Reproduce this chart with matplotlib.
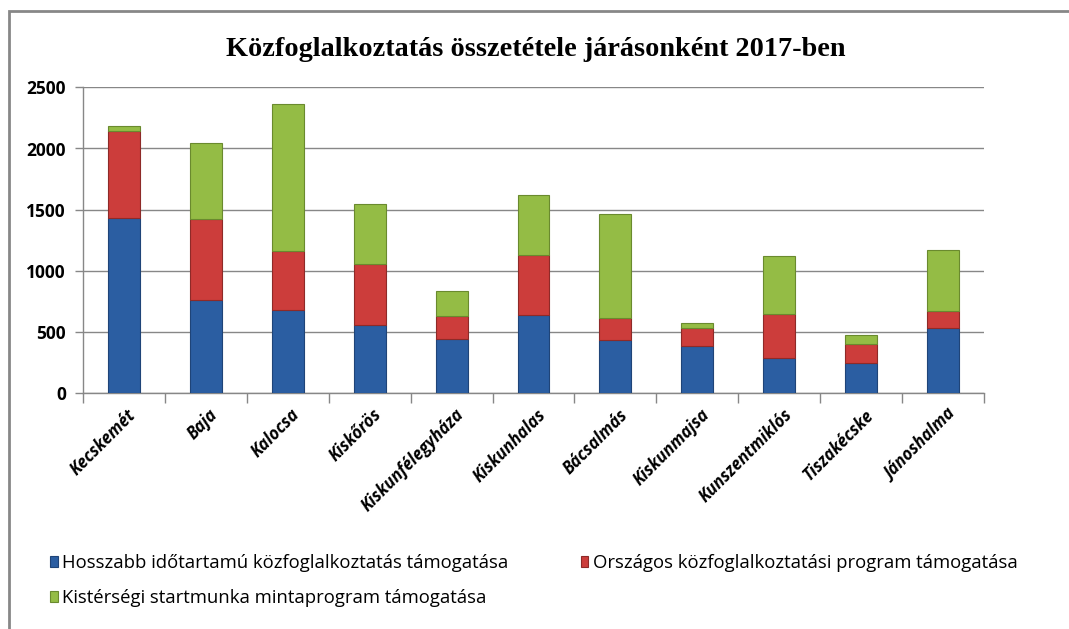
import matplotlib
matplotlib.use("Agg")
import matplotlib.pyplot as plt
import numpy as np
from matplotlib.patches import Rectangle, Patch

categories = ["Kecskemét", "Baja", "Kalocsa", "Kiskőrös", "Kiskunfélegyháza",
              "Kiskunhalas", "Bácsalmás", "Kiskunmajsa", "Kunszentmiklós",
              "Tiszakécske", "Jánoshalma"]
hosszabb = [1430, 762, 681, 555, 441, 640, 436, 387, 286, 245, 534]
orszagos = [713, 665, 482, 502, 191, 490, 182, 149, 362, 158, 141]
kistersegi = [41, 621, 1203, 492, 201, 490, 847, 36, 477, 71, 496]
series_names = ["Hosszabb időtartamú közfoglalkoztatás támogatása",
                "Országos közfoglalkoztatási program támogatása",
                "Kistérségi startmunka mintaprogram támogatása"]
title = "Közfoglalkoztatás összetétele járásonként 2017-ben"
yticks = [0, 500, 1000, 1500, 2000, 2500]

colors = ["#2B5EA2", "#CC3D3B", "#94BC45"]
edges = ["#1F4478", "#8E2A28", "#6A8A2E"]

W, H = 1069, 629
fig = plt.figure(figsize=(W / 100, H / 100), dpi=100)
ax = fig.add_axes([82.7 / W, 1 - 393.3 / H, (984.3 - 82.7) / W, (393.3 - 87.3) / H])

x = np.arange(len(categories))
bw = 0.39
bottom = np.zeros(len(categories))
handles = []
for vals, c, ec, name in zip([hosszabb, orszagos, kistersegi], colors, edges, series_names):
    v = np.array(vals, dtype=float)
    ax.bar(x, v, bw, bottom=bottom, color=c, edgecolor=ec, linewidth=0.8, zorder=3)
    bottom += v
    handles.append(Patch(facecolor=c, edgecolor=ec, linewidth=0.8, label=name))

ax.set_xlim(-0.5, len(categories) - 0.5)
ax.set_ylim(0, 2500)
ax.set_yticks(yticks)
ax.yaxis.grid(True, color="#878787", linewidth=1.0, zorder=0)
ax.set_axisbelow(True)
for s in ["top", "right"]:
    ax.spines[s].set_visible(False)
for s in ["left", "bottom"]:
    ax.spines[s].set_color("#878787")
    ax.spines[s].set_linewidth(1.0)

ax.set_xticks(x + 0.04)
ax.set_xticklabels(categories, rotation=45, ha="right", rotation_mode="anchor",
                   fontsize=12, fontweight="bold", fontstyle="italic", family="Open Sans")
ax.tick_params(axis="x", length=0, pad=9)
ax.set_xticks(np.arange(-0.5, len(categories), 1.0), minor=True)
ax.tick_params(axis="x", which="minor", length=7, color="#878787", width=1.0)
ax.tick_params(axis="y", length=6, color="#878787", width=1.0, pad=6)
for lab in ax.get_yticklabels():
    lab.set_fontsize(12.5)
    lab.set_fontweight("bold")
    lab.set_family("Open Sans")

fig.text(536 / W, 1 - 50 / H, title, ha="center", va="center",
         fontsize=20.3, fontweight="bold", family="Liberation Serif")

leg = fig.legend([handles[0], handles[2], handles[1]],
                 [series_names[0], series_names[2], series_names[1]],
                 ncol=2, loc="upper left", bbox_to_anchor=(43 / W, 1 - 547 / H),
                 frameon=False, prop={"family": "Open Sans", "size": 13.3},
                 handlelength=0.4, handleheight=0.55, handletextpad=0.25,
                 columnspacing=3.9, labelspacing=0.9, borderaxespad=0)

fig.patches.append(Rectangle((9 / W, -0.1), 1.2, 1.1 - 11 / H, transform=fig.transFigure,
                             fill=False, edgecolor="#878787", linewidth=2.0))

fig.savefig("out.png", dpi=100)
